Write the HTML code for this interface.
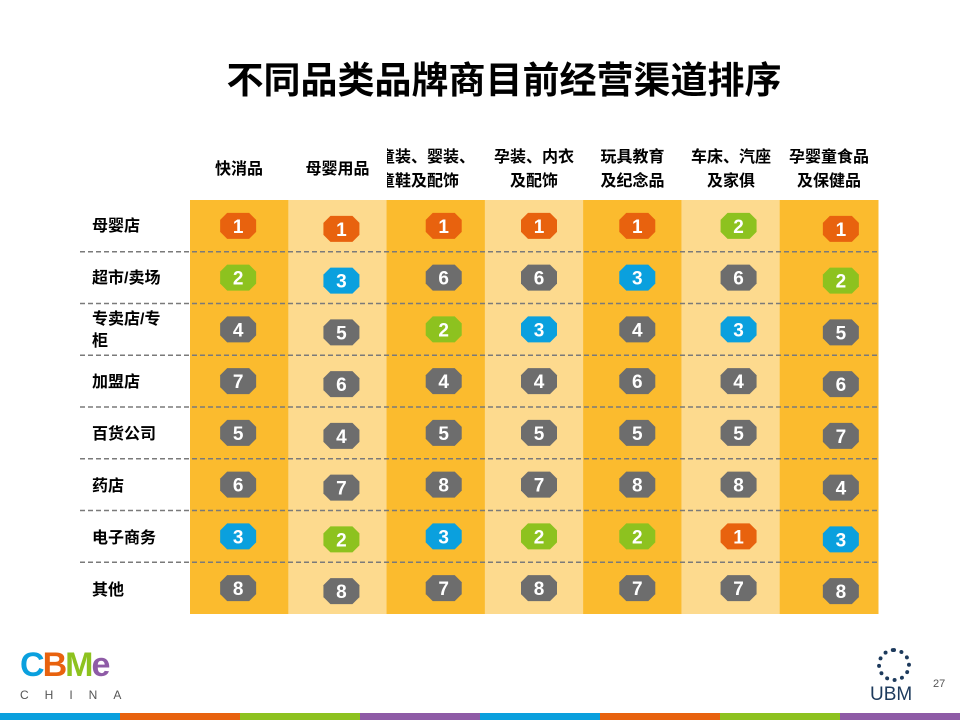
<!DOCTYPE html>
<html><head><meta charset="utf-8">
<style>
body{margin:0;width:960px;height:720px;background:#fff;position:relative;overflow:hidden;font-family:"Liberation Sans","Noto Sans CJK SC",sans-serif;}
.abs{position:absolute;}
.title{left:0;width:1008px;top:50px;text-align:center;font-size:37px;font-weight:bold;color:#000;}
.hdr{font-size:16px;font-weight:bold;text-align:center;line-height:24px;color:#000;}
.rl{left:92px;font-size:16px;font-weight:bold;line-height:22px;color:#000;}
</style></head><body>
<div class="abs title">不同品类品牌商目前经营渠道排序</div>
<svg class="abs" style="left:0;top:0" width="960" height="720" id="chart"></svg>
<div class="abs hdr" style="left:190px;width:98px;top:158px">快消品</div>
<div class="abs hdr" style="left:288px;width:99px;top:158px">母婴用品</div>
<div class="abs hdr" style="left:387px;width:98px;top:146px;overflow:hidden;white-space:nowrap;text-align:left"><span style="margin-left:-8px">童装、婴装、</span><br><span style="margin-left:-8px">童鞋及配饰</span></div>
<div class="abs hdr" style="left:485px;width:98px;top:146px">孕装、内衣<br>及配饰</div>
<div class="abs hdr" style="left:583px;width:99px;top:146px">玩具教育<br>及纪念品</div>
<div class="abs hdr" style="left:682px;width:98px;top:146px">车床、汽座<br>及家俱</div>
<div class="abs hdr" style="left:780px;width:98px;top:146px">孕婴童食品<br>及保健品</div>
<div class="abs rl" style="top:216px">母婴店</div>
<div class="abs rl" style="top:268px">超市/卖场</div>
<div class="abs rl" style="top:309px">专卖店/专<br>柜</div>
<div class="abs rl" style="top:372px">加盟店</div>
<div class="abs rl" style="top:424px">百货公司</div>
<div class="abs rl" style="top:476px">药店</div>
<div class="abs rl" style="top:528px">电子商务</div>
<div class="abs rl" style="top:580px">其他</div>
<div class="abs" style="left:20px;top:646px;font-size:34px;font-weight:900;letter-spacing:-2px"><span style="color:#0AA0DE">C</span><span style="color:#E8620E">B</span><span style="color:#8DC21F">M</span><span style="color:#8E5BA6">e</span></div>
<div class="abs" style="left:20px;top:688px;font-size:12px;letter-spacing:16px;color:#555">CHINA</div>
<div class="abs" style="left:870px;top:684px;font-size:19px;color:#1d3a5c">UBM</div>
<div class="abs" style="left:877px;top:648px;width:34px;height:34px;border-radius:50%;border:4px dotted #1d3a5c;box-sizing:border-box"></div>
<div class="abs" style="left:933px;top:678px;font-size:11px;color:#555">27</div>
<script>
const categories=["快消品","母婴用品","童装婴装童鞋及配饰","孕装内衣及配饰","玩具教育及纪念品","车床汽座及家俱","孕婴童食品及保健品"];
const channels=["母婴店","超市/卖场","专卖店/专柜","加盟店","百货公司","药店","电子商务","其他"];
const rankCol1=[1,2,4,7,5,6,3,8];
const rankCol2=[1,3,5,6,4,7,2,8];
const rankCol3=[1,6,2,4,5,8,3,7];
const rankCol4=[1,6,3,4,5,7,2,8];
const rankCol5=[1,3,4,6,5,8,2,7];
const rankCol6=[2,6,3,4,5,8,1,7];
const rankCol7=[1,2,5,6,7,4,3,8];
const ranks=[rankCol1,rankCol2,rankCol3,rankCol4,rankCol5,rankCol6,rankCol7];
const NS="http://www.w3.org/2000/svg";
const svg=document.getElementById('chart');
const x0=190,x1=878,y0=200,y1=614;
const colW=(x1-x0)/categories.length,rowH=(y1-y0)/channels.length;
const xs=i=>x0+colW*i, ys=j=>y0+rowH*j;
function mk(t,a){const e=document.createElementNS(NS,t);for(const k in a)e.setAttribute(k,a[k]);svg.appendChild(e);return e;}
categories.forEach((c,i)=>{
 const r=mk('rect',{x:xs(i),y:y0,width:colW+0.5,height:y1-y0,fill:i%2?'#FDDA8E':'#FBBB2E'});
 
 
});
for(let j=1;j<channels.length;j++){
 const l=mk('line',{x1:80,x2:x1,y1:ys(j),y2:ys(j),stroke:'#7a7a7a','stroke-width':1.5,'stroke-dasharray':'5,3'});
 
 
}
const colorOf=v=>v===1?'#E8620E':v===2?'#8DC21F':v===3?'#0AA0DE':'#6D6D6D';
const cxOff=[0,5,9,6,6,9,13];
ranks.forEach((col,i)=>col.forEach((v,j)=>{
 const cx=xs(i)+colW/2+cxOff[i]-1, cy=ys(j)+rowH/2+(i===1||i===6?3:0);
 const w=18,h=13,c=7;
 const pts=[[cx-w+c,cy-h],[cx+w-c,cy-h],[cx+w,cy-h+c],[cx+w,cy+h-c],[cx+w-c,cy+h],[cx-w+c,cy+h],[cx-w,cy+h-c],[cx-w,cy-h+c]].map(p=>p.join(',')).join(' ');
 const g=mk('g',{});
 
 
 const p=document.createElementNS(NS,'polygon');p.setAttribute('points',pts);p.setAttribute('fill',colorOf(v));g.appendChild(p);
 const t=document.createElementNS(NS,'text');t.setAttribute('x',cx);t.setAttribute('y',cy+7);t.setAttribute('text-anchor','middle');
 t.setAttribute('font-size','19');t.setAttribute('font-weight','bold');t.setAttribute('fill','#fff');t.setAttribute('font-family','Liberation Sans,sans-serif');t.textContent=v;g.appendChild(t);
}));
const bar=['#0AA0DE','#E8620E','#8DC21F','#8E5BA6','#0AA0DE','#E8620E','#8DC21F','#8E5BA6'];
bar.forEach((c,i)=>{const r=mk('rect',{x:i*120,y:713,width:120,height:7,fill:c});
 
 });
</script>
</body></html>
